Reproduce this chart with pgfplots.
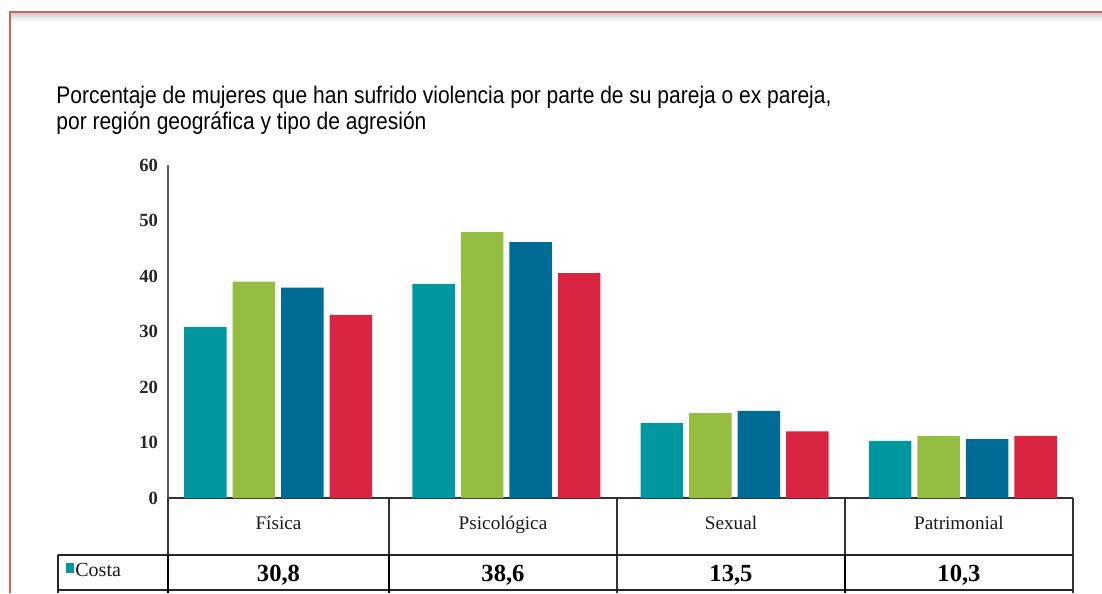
\documentclass[border=0pt]{standalone}
\usepackage{fontspec}
\setmainfont{Liberation Serif}
\newfontfamily\titlefont[FakeStretch=0.875]{Liberation Sans}
\usepackage{pgfplots}
\pgfplotsset{compat=1.18}
\definecolor{costa}{RGB}{0,152,158}
\definecolor{verde}{RGB}{149,189,66}
\definecolor{azul}{RGB}{0,108,150}
\definecolor{rojo}{RGB}{217,36,66}
\definecolor{marco}{RGB}{208,98,92}
\begin{document}
\begin{tikzpicture}
% page frame, 1 px = 0.5 pt, y downwards
\begin{scope}[x=0.5pt,y=-0.5pt]
\path[use as bounding box] (0,0) rectangle (1102,593);
\shade[top color=black!18, bottom color=white] (11,13) rectangle (1102,22);
\draw[marco, line width=1.2pt] (10,593) -- (10,12) -- (1102,12);
\node[anchor=base west, inner sep=0, font=\titlefont\fontsize{12}{14}\selectfont] at (56,104) {Porcentaje de mujeres que han sufrido violencia por parte de su pareja o ex pareja,};
\node[anchor=base west, inner sep=0, font=\titlefont\fontsize{12}{14}\selectfont] at (56,129) {por región geográfica y tipo de agresión};
\end{scope}

\begin{axis}[at={(84pt,-249pt)}, anchor=south west, scale only axis,
  width=452.5pt, height=166.5pt,
  xmin=-0.482, xmax=3.482, ymin=0, ymax=60,
  ytick={0,10,...,60}, xtick=\empty,
  axis x line*=bottom, axis y line*=left,
  y axis line style={-, black!65, line width=1pt},
  x axis line style={-, black!80, line width=0.6pt},
  major tick length=0,
  /pgf/number format/assume math mode=true,
  yticklabel style={font=\fontsize{9.3}{10}\selectfont\bfseries, text=black!85, xshift=-1.5pt},
  ybar=3pt, bar width=21.25pt, clip=false]
\addplot[fill=costa, draw=none] coordinates {(0,30.8) (1,38.6) (2,13.5) (3,10.3)};
\addplot[fill=verde, draw=none] coordinates {(0,39.0) (1,47.9) (2,15.3) (3,11.2)};
\addplot[fill=azul, draw=none] coordinates {(0,37.9) (1,46.1) (2,15.7) (3,10.6)};
\addplot[fill=rojo, draw=none] coordinates {(0,33.0) (1,40.5) (2,12.0) (3,11.2)};
\end{axis}

% table under the axis
\begin{scope}[x=0.5pt,y=-0.5pt]
\draw[black!80, line width=0.6pt] (168,498) -- (168,593);
\foreach \xx in {389,617,845,1073} \draw[black!80, line width=0.6pt] (\xx,498) -- (\xx,593);
\draw[black!85, line width=0.7pt] (58,555) -- (1073,555);
\draw[black!85, line width=0.7pt] (58,590) -- (1073,590);
\draw[black!85, line width=0.7pt] (58,555) -- (58,593);
\draw[black, line width=0.9pt] (168,555) -- (168,593);
\draw[black, line width=0.9pt] (389,555) -- (389,593);
\draw[black, line width=0.9pt] (845,555) -- (845,593);
\foreach \cx/\lab in {278.5/Física,503/Psicológica,731/Sexual,959/Patrimonial}
  \node[anchor=base, inner sep=0, font=\fontsize{9.6}{11}\selectfont, text=black!90] at (\cx,529) {\lab};
\foreach \cx/\val in {278.5/{30,8},503/{38,6},731/{13,5},959/{10,3}}
  \node[anchor=base, inner sep=0, font=\fontsize{12.3}{14}\selectfont\bfseries] at (\cx,581) {\val};
\fill[costa] (66,563) rectangle (74,573);
\node[anchor=base west, inner sep=0, font=\fontsize{10}{12}\selectfont, text=black!90] at (75,576) {Costa};
\end{scope}
\end{tikzpicture}
\end{document}
